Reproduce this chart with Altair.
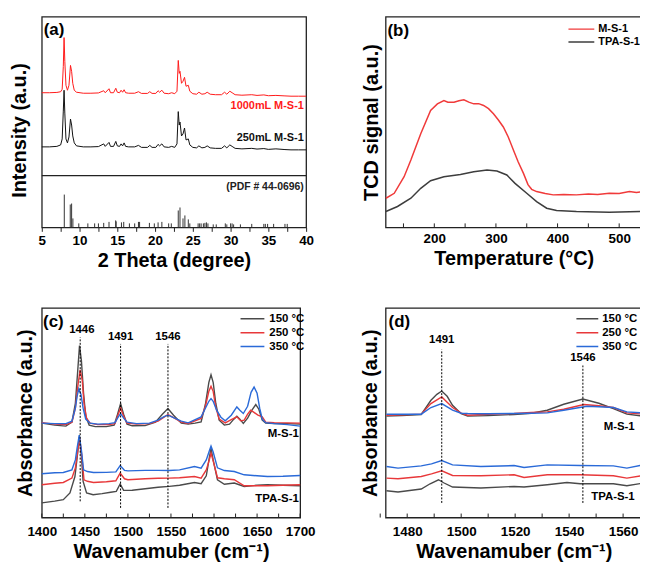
import altair as alt
import pandas as pd

FONT = "Liberation Sans"

# ---------------- (a) XRD ----------------
xrd_x = [5.0, 6.0, 7.0, 7.5, 7.7, 7.85, 7.95, 8.05, 8.2, 8.4, 8.6, 8.8, 8.95, 9.1, 9.3, 9.6,
         10.5, 11.5, 12.5, 13.2, 13.4, 13.9, 14.1, 14.5, 14.8, 15.0, 15.3, 15.5, 15.7, 15.9,
         16.1, 16.5, 17.3, 17.8, 18.2, 19.0, 19.3, 19.6, 20.1, 20.4, 20.6, 20.9, 21.2, 21.8,
         22.2, 22.6, 22.9, 23.07, 23.2, 23.3, 23.5, 23.7, 23.9, 24.1, 24.4, 24.6, 25.0, 25.5,
         25.8, 26.2, 26.6, 26.9, 27.3, 28.0, 28.8, 29.2, 29.5, 29.9, 30.2, 30.6, 31.5, 32.8,
         33.5, 34.4, 35.0, 36.0, 37.2, 38.0, 39.0, 40.0]
xrd_1000 = [138.5, 138.5, 138.8, 139.5, 142, 165, 194, 170, 146, 141, 146, 166, 160, 148, 141, 139,
            138, 138, 138.3, 140.5, 138.5, 142.5, 138.5, 138.5, 143, 139, 138.5, 141, 139, 141.5,
            138.5, 138, 138, 139.5, 137.8, 137.8, 139.5, 137.8, 137.8, 140.5, 139, 141, 138, 137.5,
            138.5, 137.5, 140, 171, 158, 160, 148, 150, 154, 145, 146, 140, 137.5, 137,
            139, 137, 137.5, 139, 137, 136.5, 136.5, 139, 137, 140, 138.5, 136.5, 136, 136.5,
            135.8, 136.3, 135.5, 135.8, 135.3, 135, 135, 135]
xrd_250 = [84, 84, 84.5, 86, 92, 120, 141, 118, 92, 88, 94, 112, 106, 95, 88, 85,
           84, 84, 84.3, 87, 84.5, 88.5, 84.5, 84.5, 89.5, 85, 84.5, 87, 85, 88,
           84.5, 84, 84, 85.5, 83.5, 83.5, 85.5, 83.5, 83.5, 86.5, 85, 87, 84, 83.5,
           84.5, 83.5, 87, 119.5, 106, 109, 95, 97, 103, 91, 92, 86, 83.5, 83,
           85, 83, 83.5, 85, 83, 82.5, 82.5, 85, 83, 86, 84.5, 82.5, 82, 82.5,
           81.8, 82.3, 81.5, 82, 81.3, 81, 81, 81]
pdf_pos = [7.98, 8.77, 8.95, 9.12, 9.9, 11.1, 12.0, 12.5, 13.2, 13.9, 14.78, 14.85, 15.55, 15.85,
           16.6, 17.3, 17.8, 17.95, 19.25, 19.9, 20.4, 20.9, 21.8, 22.15, 23.07, 23.3, 23.7, 23.95,
           24.4, 24.6, 25.7, 25.9, 26.1, 26.4, 26.6, 26.8, 27.0, 27.7, 28.1, 29.3, 29.5, 30.0,
           30.2, 30.4, 31.3, 32.8, 34.4, 34.6, 34.9, 35.7, 37.2, 37.5]
pdf_int = [36, 26, 27, 12, 7, 7, 7, 7, 7.5, 8.5, 10, 9, 8, 8.5,
           7, 7, 8.5, 8.5, 7.5, 7, 8, 8.5, 7, 7, 20, 23, 12, 15,
           11, 7, 7, 7, 7, 7, 7.5, 8, 7, 6, 6, 7, 6, 7,
           7, 6, 6, 6.5, 6.5, 6.5, 6.5, 6.5, 6.5, 6.5]
a_sep = 55
a_labels = ["(a)", "1000mL M-S-1", "250mL M-S-1", "(PDF # 44-0696)"]

# ---------------- (b) TPD ----------------
tpd_red_x = [121.5, 135, 151, 162, 178, 194, 205, 215.6, 222, 232, 240, 248, 256, 264, 272, 280,
             288, 296, 304, 312, 320, 328.5, 336, 344.7, 352, 358, 366, 380, 393, 410, 430.6,
             450, 465, 484, 500, 516.6, 528, 538]
tpd_red_y = [26.3, 31.3, 48, 64.7, 91.3, 114.7, 121.3, 124.7, 123, 123, 124.5, 125.3, 123, 121.3,
             121.5, 119.7, 116.5, 111.3, 105, 98, 88, 74.7, 63, 51.3, 40, 35.3, 33, 31, 29.7, 30,
             29.7, 30.5, 30, 31.3, 31, 33, 32, 33]
tpd_blk_x = [121.5, 140.3, 162, 178, 194, 215.6, 242.4, 264, 285.5, 301.6, 317.7, 331, 350, 366,
             382.3, 398.4, 430.6, 484, 538]
tpd_blk_y = [13, 18, 26.3, 36.3, 44, 48, 50.3, 53, 54.7, 53.7, 49.7, 41.3, 31.3, 23, 16.3, 14,
             13, 12.3, 13]
b_series = ["M-S-1", "TPA-S-1"]

# ---------------- (c) IR full range ----------------
temps = ["150 °C", "250 °C", "350 °C"]
c_ms_150_x = [1400, 1415, 1428, 1435, 1439, 1441.5, 1443.8, 1446, 1448.5, 1451, 1455, 1462, 1475,
              1484, 1488, 1491.5, 1495, 1499, 1505, 1520, 1532, 1540, 1546.5, 1553, 1562, 1570,
              1578, 1585, 1590, 1594, 1596.5, 1599, 1602, 1606, 1612, 1618, 1623, 1626.5, 1630,
              1634, 1639, 1644, 1648.5, 1652, 1656, 1660, 1670, 1685, 1700]
c_ms_150_y = [95, 93, 92, 96, 115, 145, 173, 158, 125, 102, 93, 91.5, 91.5,
              93, 104, 114.7, 104, 94, 92.3, 92.5, 96, 104, 109.7, 103, 95, 94,
              95, 96.3, 114, 136, 143.7, 136, 115, 98, 93, 94, 99, 102, 99,
              94.7, 100, 108, 113.7, 109, 98, 95, 94.5, 94.5, 94]
c_ms_250_x = [1400, 1415, 1428, 1435, 1439, 1441.5, 1444.5, 1447, 1449, 1452, 1456, 1465, 1478,
              1485, 1488, 1491.5, 1495, 1499, 1510, 1525, 1535, 1542, 1546.5, 1553, 1562, 1570,
              1585, 1590, 1594, 1596.5, 1599, 1602, 1606, 1613, 1620, 1626.5, 1631, 1635, 1639,
              1642.5, 1646, 1651, 1656, 1660, 1670, 1685, 1700]
c_ms_250_y = [95.5, 94, 93.5, 96, 110, 130, 148.7, 138, 115, 100, 95, 93.5, 93.5,
              94.5, 102, 110.3, 102, 95, 94, 94.5, 97, 101, 103.7, 100.5, 96, 94.7,
              99.7, 112, 127, 132, 127, 111, 99, 95.3, 98.5, 101.3, 97.3, 98, 104,
              108, 106, 103, 101.3, 96, 95.5, 95.3, 95]
c_ms_350_x = [1400, 1415, 1428, 1435, 1439, 1441, 1443, 1445.5, 1448, 1451, 1456, 1465, 1478,
              1485, 1488, 1491.5, 1495, 1499, 1510, 1525, 1535, 1542, 1546.5, 1553, 1562, 1570,
              1585, 1590, 1594, 1596.5, 1599, 1603, 1608, 1613, 1620, 1626.5, 1630, 1634, 1639,
              1643, 1646.5, 1650, 1653, 1656, 1660, 1670, 1685, 1700]
c_ms_350_y = [95, 94.5, 94.5, 97, 110, 122, 129.7, 124, 110, 99, 95, 94, 94.5,
              95.5, 100, 104.7, 100, 96, 94.5, 95, 98, 101.5, 103, 100.5, 97, 95.3,
              101.3, 110, 117, 119.7, 117, 108, 101, 97.3, 103, 111.3, 108, 104.7, 112,
              126, 131.3, 125, 110, 99, 95.5, 94.5, 93.5, 92]
c_tpa_150_x = [1400, 1415, 1425, 1432.7, 1438.5, 1441, 1443.5, 1446, 1448, 1452, 1459.6, 1470,
               1480, 1486.5, 1491, 1495, 1505, 1520, 1535, 1548, 1560, 1577.3, 1585, 1591,
               1594.5, 1596.5, 1599, 1604, 1612, 1623.5, 1635, 1650, 1662, 1680, 1700]
c_tpa_150_y = [14.7, 16.5, 18, 24.7, 41.3, 60, 81.3, 62, 36.3, 24.7, 23, 24,
               25.5, 26.3, 33.7, 27.3, 27.5, 29, 30.5, 31.3, 32.5, 35.3, 34, 42,
               60, 69.7, 58, 38, 33.5, 34.7, 31.3, 32.5, 33, 32.5, 32]
c_tpa_250_x = [1400, 1415, 1425, 1435, 1439, 1441.5, 1444, 1446.5, 1449, 1453, 1460, 1475,
               1486, 1491, 1496, 1500, 1520, 1535, 1548, 1560, 1577.3, 1585, 1591, 1594.5,
               1596.5, 1599, 1604, 1612, 1623.5, 1635, 1650, 1662, 1680, 1700]
c_tpa_250_y = [33, 34.5, 35.3, 39.7, 50, 65, 79.7, 62, 38, 36.5, 35.3, 36,
               37, 44.7, 39, 38, 39, 39.5, 39.7, 40, 41.3, 39.7, 48, 58,
               64.7, 57, 40, 39, 38, 32, 32, 32, 32.5, 33]
c_tpa_350_x = [1400, 1415, 1425, 1435, 1439, 1441, 1443.5, 1446, 1448.5, 1453, 1460, 1475,
               1486, 1491, 1496, 1500, 1520, 1535, 1548, 1560, 1577.3, 1585, 1591, 1594.5,
               1596.5, 1599, 1604, 1612, 1623.5, 1635, 1650, 1662, 1680, 1700]
c_tpa_350_y = [44, 45, 45.3, 48, 58, 70, 83, 68, 48, 46.3, 45.3, 45.5,
               46, 52.3, 47.5, 47, 47.5, 47.5, 47.3, 48, 51.3, 49.7, 58, 67,
               72, 66, 50, 47.3, 46.3, 43, 42, 41.3, 41.5, 42.3]
c_marks = [1444.6, 1491.5, 1546.5]
c_mark_lo = [16.3, 9.7, 9.7]
c_mark_hi = [181.3, 174.7, 174.7]
c_mark_text = ["1446", "1491", "1546"]
c_mark_text_x = [1446.5, 1491.5, 1546.5]
c_mark_text_y = [188.7, 181.3, 181.3]

# ---------------- (d) IR zoom ----------------
d_ms_150_x = [1472.3, 1478, 1485.2, 1488.8, 1491, 1492.8, 1494.8, 1496.8, 1500, 1502.4, 1510,
              1519.6, 1526, 1531.9, 1538, 1545.1, 1551, 1556.4, 1561.4, 1567.5]
d_ms_150_y = [102, 102.7, 103.7, 118, 124, 127.3, 122, 113, 104.5, 102, 102.5,
              103.7, 105, 108, 114, 119.3, 115, 109.7, 104, 102]
d_ms_250_x = [1472.3, 1478, 1485.2, 1488.8, 1492.8, 1496.8, 1500, 1502.4, 1510, 1519.6, 1526,
              1531.9, 1538, 1545.5, 1551, 1556.4, 1561.4, 1567.5]
d_ms_250_y = [103, 103.3, 104, 114.7, 121.3, 110.7, 105, 103, 104, 104.7, 105.7,
              106.3, 109, 113.7, 112.5, 110.7, 105.3, 104]
d_ms_350_x = [1472.3, 1478, 1485.2, 1488.8, 1492.8, 1496.8, 1500, 1502.4, 1510, 1519.6, 1526,
              1531.9, 1538, 1546.6, 1551, 1556.4, 1561.4, 1567.5]
d_ms_350_y = [104, 104, 104, 110.7, 114.7, 108, 105, 104.7, 104.5, 104.7, 105,
              105.3, 108, 112, 111.5, 110.7, 106.3, 105.3]
d_tpa_x = [1472.3, 1476.6, 1485.2, 1489, 1492.8, 1496.8, 1507.3, 1519.6, 1523.3, 1531.9,
           1544.1, 1556.4, 1561.4, 1567.5]
d_tpa_350_y = [51.3, 49.7, 52, 54, 57.3, 53, 51.3, 52.3, 50.3, 53, 52.3, 52, 49.7, 53]
d_tpa_250_y = [39.7, 39, 41.3, 44, 47, 42.3, 42, 43, 40.3, 43, 43, 42, 39.7, 42.3]
d_tpa_150_x = [1472.3, 1476.6, 1485.2, 1488.5, 1491.6, 1493.5, 1496.8, 1507.3, 1519.6, 1523.3,
               1531.9, 1539.2, 1544.1, 1556.4, 1561.4, 1567.5]
d_tpa_150_y = [27, 25.7, 28.7, 34, 38, 35, 30.7, 29.7, 31.3, 30.7, 33, 35.3, 34, 34, 32, 34.7]
d_marks = [1492.8, 1545.1]
d_mark_lo = [14.7, 14.7]
d_mark_hi = [169, 153]
d_mark_text = ["1491", "1546"]
d_mark_text_y = [178.5, 160.7]

# colours
RED_A, BLK_A = "#ff1a1a", "#111111"
TEMP_COLORS = ["#4a4a4a", "#e8383a", "#2a6ad8"]
FRAME = "#222222"


def text_layer(df, X, Y, size=11, align="left", weight="bold", color="black"):
    return alt.Chart(df).mark_text(font=FONT, fontSize=size, fontWeight=weight, align=align,
                                   baseline="middle", color=color).encode(x=X, y=Y, text="t:N")


def inward_ticks(values, X, h, color=FRAME):
    return alt.Chart(pd.DataFrame({"x": values})).mark_rule(color=color, strokeWidth=1).encode(
        x=X, y=alt.value(h), y2=alt.value(h - 4))


ROW1_H = 212

# ---------- panel a ----------
WA, HA = 266, ROW1_H
xa_scale = alt.Scale(domain=[5, 40], nice=False, zero=False)
ya_scale = alt.Scale(domain=[3, 215], nice=False, zero=False)
xa_axis = alt.Axis(title="2 Theta (degree)", values=[5 + 2.5 * i for i in range(15)],
                   labelExpr="datum.value % 5 === 0 ? datum.label : ''", tickSize=4,
                   labelPadding=2, labelFlush=False, titlePadding=4, format="d")
ya_axis = alt.Axis(title="Intensity (a.u.)", labels=False, ticks=False, titlePadding=12, titleY=114)
XA = alt.X("x:Q", scale=xa_scale, axis=xa_axis)
YA = alt.Y("y:Q", scale=ya_scale, axis=ya_axis)

df_a1 = pd.DataFrame({"x": xrd_x, "y": xrd_1000})
df_a2 = pd.DataFrame({"x": xrd_x, "y": xrd_250})
df_pdf = pd.DataFrame({"x": pdf_pos, "y": [0] * len(pdf_pos), "y2": pdf_int})
a_red = alt.Chart(df_a1).mark_line(color=RED_A, strokeWidth=1).encode(x=XA, y=YA)
a_blk = alt.Chart(df_a2).mark_line(color=BLK_A, strokeWidth=1).encode(x=XA, y=YA)
a_bars = alt.Chart(df_pdf).mark_rule(color="#333333", strokeWidth=1, clip=True).encode(
    x=XA, y=YA, y2="y2:Q")
a_sep_l = alt.Chart(pd.DataFrame({"y": [a_sep]})).mark_rule(color=FRAME, strokeWidth=1.2).encode(y=YA)
a_t1 = text_layer(pd.DataFrame({"x": [5.25], "y": [202], "t": [a_labels[0]]}), XA, YA, size=17)
a_t2 = text_layer(pd.DataFrame({"x": [39.7], "y": [125], "t": [a_labels[1]]}), XA, YA, size=11,
                  align="right", color=RED_A)
a_t3 = text_layer(pd.DataFrame({"x": [39.7], "y": [93], "t": [a_labels[2]]}), XA, YA, size=11,
                  align="right", color=BLK_A)
a_t4 = text_layer(pd.DataFrame({"x": [39.7], "y": [44], "t": [a_labels[3]]}), XA, YA, size=10.5,
                  align="right", color="#222222")
pa = alt.layer(a_red, a_blk, a_bars, a_sep_l, a_t1, a_t2, a_t3, a_t4).properties(width=WA, height=HA)

# ---------- panel b ----------
WB, HB = 258, ROW1_H
xb_scale = alt.Scale(domain=[121, 537], nice=False, zero=False)
yb_scale = alt.Scale(domain=[-3, 209], nice=False, zero=False)
xb_axis = alt.Axis(title="Temperature (°C)", values=[200, 300, 400, 500], ticks=False,
                   labelPadding=4.5, labelFlush=False, titlePadding=3, format="d")
yb_axis = alt.Axis(title="TCD signal (a.u.)", labels=False, ticks=False, titlePadding=4)
XB = alt.X("x:Q", scale=xb_scale, axis=xb_axis)
YB = alt.Y("y:Q", scale=yb_scale, axis=yb_axis)
df_b = pd.concat([
    pd.DataFrame({"x": tpd_red_x, "y": tpd_red_y, "s": b_series[0]}),
    pd.DataFrame({"x": tpd_blk_x, "y": tpd_blk_y, "s": b_series[1]}),
])
b_lines = alt.Chart(df_b).mark_line(strokeWidth=1.5).encode(
    x=XB, y=YB,
    color=alt.Color("s:N", scale=alt.Scale(domain=b_series, range=["#f03a3a", "#3d3d3d"]),
                    legend=alt.Legend(orient="none", legendX=183, legendY=6, title=None,
                                      symbolType="stroke", symbolSize=676, symbolStrokeWidth=1.5,
                                      labelFont=FONT, labelFontSize=11, labelFontWeight="bold",
                                      labelColor="black", clipHeight=13, rowPadding=0,
                                      labelOffset=3, padding=0)))
b_ticks = inward_ticks([150, 200, 250, 300, 350, 400, 450, 500], XB, HB)
b_t = text_layer(pd.DataFrame({"x": [124], "y": [195], "t": ["(b)"]}), XB, YB, size=17)
pb = alt.layer(b_lines, b_ticks, b_t).properties(width=WB, height=HB)


# ---------- panels c, d ----------
def ir_df(groups):
    frames = []
    for xs, ys, temp, samp in groups:
        frames.append(pd.DataFrame({"x": xs, "y": ys, "temp": temp, "sample": samp}))
    return pd.concat(frames)


def ir_legend(lx, size, offset=4):
    return alt.Legend(orient="none", legendX=lx, legendY=4, title=None, symbolType="stroke",
                      symbolSize=size, symbolStrokeWidth=1.5, labelFont=FONT, labelFontSize=11.5,
                      labelFontWeight="bold", labelColor="black", clipHeight=14, rowPadding=0,
                      labelOffset=offset, padding=0)


WC, HC = 260, 211
xc_scale = alt.Scale(domain=[1400, 1700], nice=False, zero=False)
yc_scale = alt.Scale(domain=[0, HC], nice=False, zero=False)
xc_axis = alt.Axis(title="Wavenamuber (cm⁻¹)", values=[1400, 1450, 1500, 1550, 1600, 1650, 1700],
                   ticks=False, labelPadding=7.5, labelFlush=False, titlePadding=3, format="d")
yc_axis = alt.Axis(title="Absorbance (a.u.)", labels=False, ticks=False, titlePadding=6)
XC = alt.X("x:Q", scale=xc_scale, axis=xc_axis)
YC = alt.Y("y:Q", scale=yc_scale, axis=yc_axis)
df_c = ir_df([
    (c_ms_150_x, c_ms_150_y, temps[0], "M-S-1"),
    (c_ms_250_x, c_ms_250_y, temps[1], "M-S-1"),
    (c_ms_350_x, c_ms_350_y, temps[2], "M-S-1"),
    (c_tpa_150_x, c_tpa_150_y, temps[0], "TPA-S-1"),
    (c_tpa_250_x, c_tpa_250_y, temps[1], "TPA-S-1"),
    (c_tpa_350_x, c_tpa_350_y, temps[2], "TPA-S-1"),
])
c_lines = alt.Chart(df_c).mark_line(strokeWidth=1.4).encode(
    x=XC, y=YC, detail="sample:N",
    color=alt.Color("temp:N", scale=alt.Scale(domain=temps, range=TEMP_COLORS),
                    legend=ir_legend(199, 576)))
c_dash = alt.Chart(pd.DataFrame({"x": c_marks, "y": c_mark_lo, "y2": c_mark_hi})).mark_rule(
    color="black", strokeWidth=1, strokeDash=[2, 1.5]).encode(x=XC, y=YC, y2="y2:Q")
c_num = text_layer(pd.DataFrame({"x": c_mark_text_x, "y": c_mark_text_y, "t": c_mark_text}),
                   XC, YC, size=11.5, align="center")
c_samp = text_layer(pd.DataFrame({"x": [1698.5, 1698.5], "y": [83.7, 19], "t": ["M-S-1", "TPA-S-1"]}),
                    XC, YC, size=11.5, align="right")
c_t = text_layer(pd.DataFrame({"x": [1401.5], "y": [196.3], "t": ["(c)"]}), XC, YC, size=17)
c_ticks = inward_ticks([1400 + 25 * i for i in range(13)], XC, HC)
pc = alt.layer(c_lines, c_dash, c_num, c_samp, c_t, c_ticks).properties(width=WC, height=HC)

WD, HD = 258, 211
xd_scale = alt.Scale(domain=[1472, 1567], nice=False, zero=False)
yd_scale = alt.Scale(domain=[0, HD], nice=False, zero=False)
xd_axis = alt.Axis(title="Wavenamuber (cm⁻¹)", values=[1480, 1500, 1520, 1540, 1560],
                   ticks=False, labelPadding=7.5, labelFlush=False, titlePadding=3, format="d")
yd_axis = alt.Axis(title="Absorbance (a.u.)", labels=False, ticks=False, titlePadding=5)
XD = alt.X("x:Q", scale=xd_scale, axis=xd_axis)
YD = alt.Y("y:Q", scale=yd_scale, axis=yd_axis)
df_d = ir_df([
    (d_ms_150_x, d_ms_150_y, temps[0], "M-S-1"),
    (d_ms_250_x, d_ms_250_y, temps[1], "M-S-1"),
    (d_ms_350_x, d_ms_350_y, temps[2], "M-S-1"),
    (d_tpa_150_x, d_tpa_150_y, temps[0], "TPA-S-1"),
    (d_tpa_x, d_tpa_250_y, temps[1], "TPA-S-1"),
    (d_tpa_x, d_tpa_350_y, temps[2], "TPA-S-1"),
])
d_lines = alt.Chart(df_d).mark_line(strokeWidth=1.4).encode(
    x=XD, y=YD, detail="sample:N",
    color=alt.Color("temp:N", scale=alt.Scale(domain=temps, range=TEMP_COLORS),
                    legend=ir_legend(191, 484, offset=3)))
d_dash = alt.Chart(pd.DataFrame({"x": d_marks, "y": d_mark_lo, "y2": d_mark_hi})).mark_rule(
    color="black", strokeWidth=1, strokeDash=[2, 1.5]).encode(x=XD, y=YD, y2="y2:Q")
d_num = text_layer(pd.DataFrame({"x": d_marks, "y": d_mark_text_y, "t": d_mark_text}),
                   XD, YD, size=11.5, align="center")
d_samp = text_layer(pd.DataFrame({"x": [1564.3, 1564.3], "y": [91.3, 20.7], "t": ["M-S-1", "TPA-S-1"]}),
                    XD, YD, size=11.5, align="right")
d_t = text_layer(pd.DataFrame({"x": [1473.1], "y": [196.3], "t": ["(d)"]}), XD, YD, size=17)
d_ticks = inward_ticks([1470 + 10 * i for i in range(10)], XD, HD)
pd_ = alt.layer(d_lines, d_dash, d_num, d_samp, d_t, d_ticks).properties(width=WD, height=HD)

chart = alt.concat(
    pa, pb, pc, pd_, columns=2, spacing={"row": 81, "column": 80}, bounds="flush", align="each"
).resolve_scale(color="independent").resolve_legend(color="independent").properties(
    padding={"left": 1, "top": 6, "right": -7, "bottom": 0}
).configure_view(stroke=FRAME, strokeWidth=1.3).configure_axis(
    labelFont=FONT, labelFontSize=13.5, labelFontWeight="bold", labelColor="black",
    titleFont=FONT, titleFontSize=20, titleFontWeight="bold", titleColor="black",
    grid=False, domain=False, tickColor=FRAME, tickWidth=1
)

chart.save("out.html", embed_options={"renderer": "svg", "actions": False})
